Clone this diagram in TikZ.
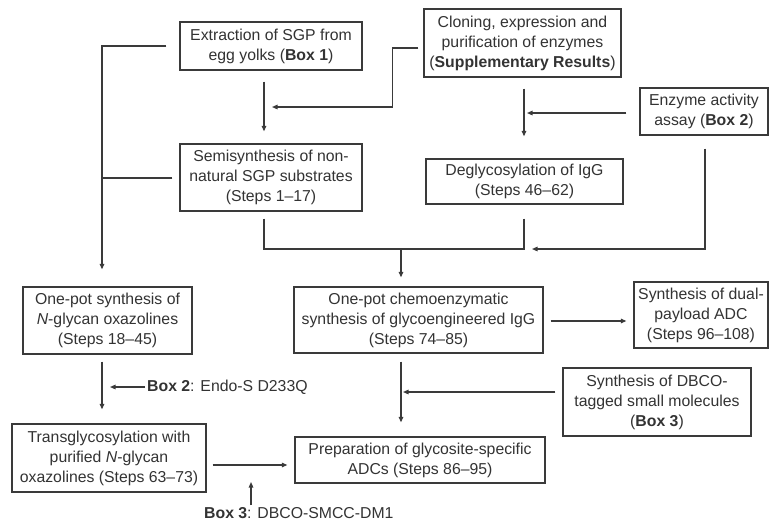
\documentclass[tikz,border=0pt]{standalone}
\usepackage{fontspec}
\setmainfont{Liberation Sans}
\usetikzlibrary{arrows.meta,calc}
\definecolor{ink}{HTML}{333333}
\definecolor{edge}{HTML}{3A3A3A}
\tikzset{
  box/.style={draw=edge, line width=1.3pt, align=center, inner sep=2pt, text=ink,
    font=\fontsize{15.8}{20}\selectfont},
  conn/.style={draw=edge, line width=1.2pt},
  arr/.style={conn, -{Triangle[length=5.5pt,width=4.5pt]}},
  lbl/.style={text=ink, inner sep=2pt, font=\fontsize{15.8}{20}\selectfont}
}
\begin{document}
\begin{tikzpicture}[x=1pt,y=-1pt]
\useasboundingbox[fill=white] (0,0) rectangle (770,523);

\node[box, minimum width=182pt, minimum height=48pt] (extr) at (271,46)
  {Extraction of SGP from\\egg yolks (\textbf{Box 1})};
\node[box, minimum width=197pt, minimum height=68pt] (clon) at (522.5,43)
  {Cloning, expression and\\purification of enzymes\\(\textbf{Supplementary Results})};
\node[box, minimum width=182pt, minimum height=67pt] (semi) at (271,177.5)
  {Semisynthesis of non-\\natural SGP substrates\\(Steps 1\textendash17)};
\node[box, minimum width=128pt, minimum height=47pt] (enz) at (704,111.5)
  {Enzyme activity\\assay (\textbf{Box 2})};
\node[box, minimum width=197pt, minimum height=45pt] (deg) at (524.5,181.5)
  {Deglycosylation of IgG\\(Steps 46\textendash62)};
\node[box, minimum width=249pt, minimum height=66pt] (chemo) at (418.5,320)
  {One-pot chemoenzymatic\\synthesis of glycoengineered IgG\\(Steps 74\textendash85)};
\node[box, minimum width=134pt, minimum height=66pt] (dual) at (701,315)
  {Synthesis of dual-\\payload ADC\\(Steps 96\textendash108)};
\node[box, minimum width=169pt, minimum height=67pt] (oxaz) at (107.5,320.5)
  {One-pot synthesis of\\\textit{N}-glycan oxazolines\\(Steps 18\textendash45)};
\node[box, minimum width=194pt, minimum height=68pt] (trans) at (109,458)
  {Transglycosylation with\\purified \textit{N}-glycan\\oxazolines (Steps 63\textendash73)};
\node[box, minimum width=250pt, minimum height=46pt] (prep) at (420,460)
  {Preparation of glycosite-specific\\ADCs (Steps 86\textendash95)};
\node[box, minimum width=188pt, minimum height=68pt] (dbco) at (657,402)
  {Synthesis of DBCO-\\tagged small molecules\\(\textbf{Box 3})};

\node[lbl, anchor=west] (b2) at (145,387) {\textbf{Box 2}: Endo-S D233Q};
\node[lbl, anchor=west] (b3) at (202,513) {\textbf{Box 3}: DBCO-SMCC-DM1};

\coordinate (c1) at (102,178);
\coordinate (j1) at (272,107);
\coordinate (j2) at (527,113);
\coordinate (j3) at (532,249);
\coordinate (m) at (401,249);
\coordinate (j4) at (403,392);
\coordinate (j5) at (110,387);
\coordinate (j6) at (251,482);

% left column
\draw[arr, shorten <=13pt, shorten >=17pt] (extr.west) -| ([xshift=-5.5pt]oxaz.north);
\draw[conn, shorten <=7pt] (semi.west |- c1) -- (c1);
\draw[arr, shorten <=11pt, shorten >=12pt] ([xshift=-7pt]extr.south) -- ([xshift=-7pt]semi.north);
\draw[arr, shorten <=5pt] ([yshift=-5pt]clon.west) -- ++(-31,0) |- (j1);

% cloning to deglycosylation
\draw[arr, shorten <=11pt, shorten >=22pt] ([xshift=1.5pt]clon.south) -- ([xshift=1.5pt]clon.south |- deg.north);
\draw[arr, shorten <=13pt] ([yshift=-1.5pt]enz.west) -- (j2);
\draw[arr, shorten <=13pt] ([xshift=1pt]enz.south) |- (j3);

% merge
\draw[conn, shorten <=7pt] ([xshift=-7pt]semi.south) |- (m);
\draw[conn, shorten <=14pt] ([xshift=-0.5pt]deg.south) |- (m);
\draw[arr, shorten >=9pt] (m) -- (m |- chemo.north);

\draw[arr, shorten <=7pt, shorten >=7pt] ([yshift=-1pt]chemo.east) -- ([yshift=-1pt]chemo.east -| dual.west);
\draw[arr, shorten <=8pt, shorten >=14pt] ([xshift=-17.5pt]chemo.south) -- ([xshift=-17.5pt]chemo.south |- prep.north);
\draw[arr, shorten <=7pt] ([yshift=10pt]dbco.west) -- (j4);

% lower left
\draw[arr, shorten <=7pt, shorten >=14pt] ([xshift=-5.5pt]oxaz.south) -- ([xshift=-5.5pt]oxaz.south |- trans.north);
\draw[arr] (b2.west) -- (j5);
\draw[arr, shorten <=6pt, shorten >=7pt] ([yshift=-7pt]trans.east) -- ([yshift=-7pt]trans.east -| prep.west);
\draw[arr] (b3.north -| j6) -- (j6);
\end{tikzpicture}
\end{document}
